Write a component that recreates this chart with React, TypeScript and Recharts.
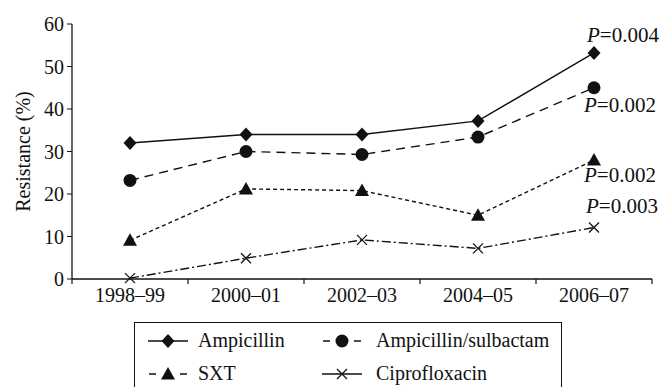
import React from "react";
import { LineChart, Line, XAxis, YAxis, Legend } from "recharts";

const periods = ["1998–99", "2000–01", "2002–03", "2004–05", "2006–07"];
const ampicillin = [32, 34, 34, 37.2, 53.2];
const ampSulbactam = [23.2, 30, 29.3, 33.4, 45];
const sxt = [9.1, 21.2, 20.8, 15, 28];
const ciprofloxacin = [0.2, 4.9, 9.2, 7.2, 12.1];
const yTicks = [0, 10, 20, 30, 40, 50, 60];

const seriesNames = ["Ampicillin", "Ampicillin/sulbactam", "SXT", "Ciprofloxacin"];
const pValues = ["0.004", "0.002", "0.002", "0.003"];

const data = periods.map((period, i) => ({
  period,
  amp: ampicillin[i],
  ampSul: ampSulbactam[i],
  sxt: sxt[i],
  cipro: ciprofloxacin[i],
}));

const FONT = '"Liberation Serif", serif';
const INK = "#111";

type Shape = "diamond" | "circle" | "triangle" | "cross";

const marker = (shape: Shape, cx: number, cy: number, key?: string) => {
  if (shape === "diamond")
    return <path key={key} d={`M${cx},${cy - 7}L${cx + 6.5},${cy}L${cx},${cy + 7}L${cx - 6.5},${cy}Z`} fill={INK} />;
  if (shape === "circle") return <circle key={key} cx={cx} cy={cy} r={6.5} fill={INK} />;
  if (shape === "triangle")
    return <path key={key} d={`M${cx},${cy - 7}L${cx + 7},${cy + 5.5}L${cx - 7},${cy + 5.5}Z`} fill={INK} />;
  return (
    <path key={key} d={`M${cx - 5},${cy - 5}L${cx + 5},${cy + 5}M${cx - 5},${cy + 5}L${cx + 5},${cy - 5}`} stroke={INK} strokeWidth={1.3} fill="none" />
  );
};

const series: { key: string; shape: Shape; dash?: string; dx: number; dy: number }[] = [
  { key: "amp", shape: "diamond", dx: -7, dy: -11 },
  { key: "ampSul", shape: "circle", dash: "9 6", dx: -10, dy: 24 },
  { key: "sxt", shape: "triangle", dash: "4 3", dx: -10, dy: 22 },
  { key: "cipro", shape: "cross", dash: "9 3 2 3", dx: -8, dy: -15 },
];

// tick marks sit on the band edges, labels in the middle of each band
const XTick = (props: any) => {
  const { x, y, payload, index, width } = props;
  const half = payload.offset || width / (2 * periods.length);
  return (
    <g>
      <line x1={x - half} x2={x - half} y1={y} y2={y + 5} stroke={INK} strokeWidth={1.2} />
      {index === periods.length - 1 && <line x1={x + half} x2={x + half} y1={y} y2={y + 5} stroke={INK} strokeWidth={1.2} />}
      <text x={x} y={y + 23} textAnchor="middle" fontSize={20} fontFamily={FONT} fill={INK}>
        {payload.value}
      </text>
    </g>
  );
};

const LegendIcon = ({ shape, dash }: { shape: Shape; dash?: string }) => (
  <svg width={40} height={16}>
    {dash ? (
      <>
        <line x1={1} x2={8} y1={8} y2={8} stroke={INK} strokeWidth={1.5} />
        <line x1={32} x2={39} y1={8} y2={8} stroke={INK} strokeWidth={1.5} />
      </>
    ) : (
      <line x1={0} x2={40} y1={8} y2={8} stroke={INK} strokeWidth={1.5} />
    )}
    {marker(shape, 20, 8)}
  </svg>
);

const renderLegend = () => (
  <div style={{ display: "grid", gridTemplateColumns: "174px 1fr", paddingLeft: 13, paddingTop: 1 }}>
    {series.map((s, i) => (
      <div key={s.key} style={{ display: "flex", alignItems: "center", height: 33 }}>
        <LegendIcon shape={s.shape} dash={s.shape === "cross" ? undefined : s.dash} />
        <span style={{ marginLeft: i % 2 ? 14 : 10, fontSize: 20, fontFamily: FONT, color: INK }}>{seriesNames[i]}</span>
      </div>
    ))}
  </div>
);

export default function App() {
  return (
    <div style={{ position: "absolute", left: 0, top: 0, background: "#fff" }}>
      <LineChart width={667} height={387} data={data} margin={{ top: 24, right: 15, left: 12, bottom: 78 }}>
        <XAxis
          dataKey="period"
          scale="band"
          height={30}
          tickLine={false}
          tickSize={0}
          tickMargin={0}
          axisLine={{ stroke: INK, strokeWidth: 1.3 }}
          tick={<XTick />}
          interval={0}
        />
        <YAxis
          width={60}
          domain={[0, 60]}
          ticks={yTicks}
          tickSize={5}
          tickMargin={3}
          axisLine={{ stroke: INK, strokeWidth: 1.3 }}
          tickLine={{ stroke: INK }}
          tick={{ fontSize: 20, fontFamily: FONT, fill: INK }}
          label={{
            content: (p: any) => (
              <text
                transform={`translate(${p.viewBox.x + 18},${p.viewBox.y + p.viewBox.height / 2}) rotate(-90)`}
                textAnchor="middle"
                fontSize={20}
                fontFamily={FONT}
                fill={INK}
              >
                Resistance (%)
              </text>
            ),
          }}
        />
        <Legend
          layout="horizontal"
          verticalAlign="middle"
          align="center"
          content={renderLegend}
          wrapperStyle={{ left: 134, top: 322, width: 428, height: 66, border: "1px solid #111", boxSizing: "border-box" }}
        />
        {series.map((s, i) => (
          <Line
            key={s.key}
            dataKey={s.key}
            name={seriesNames[i]}
            type="linear"
            stroke={INK}
            strokeWidth={1.4}
            strokeDasharray={s.dash}
            isAnimationActive={false}
            dot={(p: any) => marker(s.shape, p.cx, p.cy, `${s.key}-${p.index}`)}
            label={(p: any) =>
              p.index === periods.length - 1 ? (
                <text key={`p-${s.key}`} x={p.x + s.dx} y={p.y + s.dy} fontSize={21} fontFamily={FONT} fill={INK}>
                  <tspan fontStyle="italic">P</tspan>={pValues[i]}
                </text>
              ) : (
                <g key={`p-${s.key}-${p.index}`} />
              )
            }
          />
        ))}
      </LineChart>
    </div>
  );
}
